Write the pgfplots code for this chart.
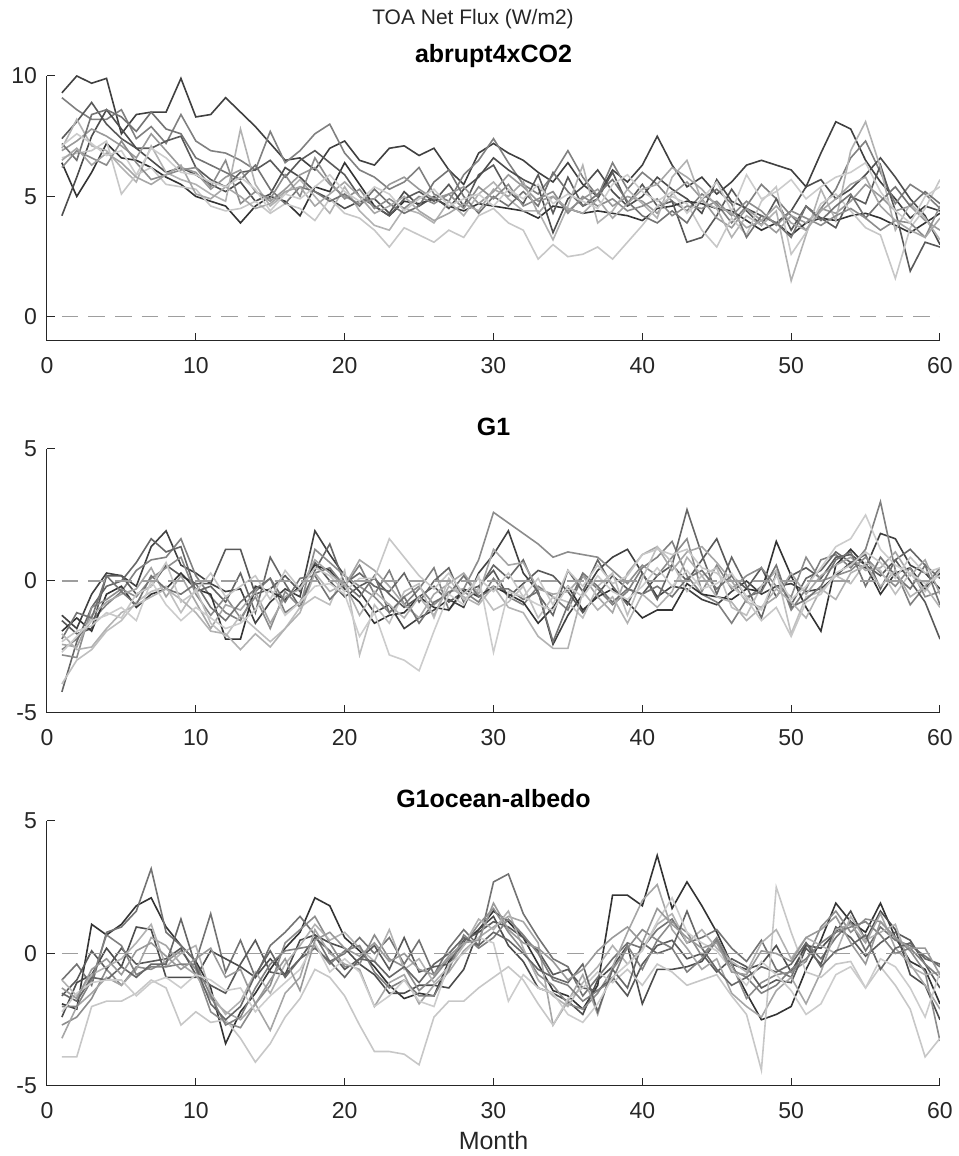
\documentclass[border=0pt]{standalone}
\usepackage{fontspec}
\setmainfont{Liberation Sans}
\usepackage{pgfplots}
\pgfplotsset{compat=1.18}

% one column of monthly values per series; the month is the row number
\pgfplotsset{
  table/mon/.style={row sep=\\, header=false, x expr=\coordindex+1, y index=0},
  panel/.style={
    scale only axis, width=446.5pt, height=132.5pt,
    xmin=0, xmax=60, xtick={0,10,...,60},
    axis x line*=bottom, axis y line*=left,
    axis line style={black!85, line width=0.5pt},
    tick align=inside, major tick length=3.8pt,
    every tick/.style={black!85, line width=0.5pt},
    tick label style={font=\fontsize{11.5}{13}\selectfont, text=black!85},
    xticklabel style={anchor=base, yshift=-16.3pt},
    yticklabel style={xshift=-1.5pt},
    /pgf/number format/assume math mode=true,
    every axis title/.style={at={(0.5,1)}, anchor=base, yshift=6.8pt,
      font=\bfseries\fontsize{12.5}{14}\selectfont, text=black},
    every axis plot/.append style={line width=0.8pt, mark=none},
  },
  zero/.style={black!38, line width=0.6pt, dash pattern=on 8.3pt off 5pt},
}

\begin{document}
\begin{tikzpicture}[x=1pt,y=1pt]
\path[use as bounding box] (0,0) rectangle (479,578);
\node[anchor=base, font=\fontsize{10.5}{12}\selectfont, text=black!85] at (236.5,565.5) {TOA Net Flux (W/m2)};
\node[anchor=base, font=\fontsize{12.5}{14}\selectfont, text=black!85] at (246.75,3) {Month};

% ---------------- abrupt4xCO2 ----------------
\begin{axis}[panel, at={(23.5pt,407.5pt)}, anchor=south west,
  ymin=-1, ymax=10, ytick={0,5,10}, title={abrupt4xCO2}]
\addplot[black!75] table[mon] {9.3\\10.0\\9.7\\9.9\\7.6\\8.4\\8.5\\8.5\\9.9\\8.3\\8.4\\9.1\\8.5\\7.9\\7.2\\6.5\\6.6\\6.1\\7.0\\7.3\\6.5\\6.3\\7.0\\7.1\\6.7\\7.0\\6.1\\5.5\\6.8\\7.2\\6.8\\6.5\\6.0\\5.6\\6.4\\5.5\\5.0\\6.1\\5.6\\6.3\\7.5\\6.3\\5.4\\5.8\\5.1\\5.6\\6.3\\6.5\\6.3\\6.1\\5.4\\6.8\\8.1\\7.8\\6.5\\5.6\\4.9\\4.1\\4.6\\4.4\\};
\addplot[black!50] table[mon] {9.1\\8.6\\8.2\\8.2\\8.6\\7.4\\7.9\\7.2\\8.4\\7.3\\6.9\\6.8\\6.5\\6.1\\7.7\\6.4\\6.9\\7.6\\8.0\\6.8\\6.1\\5.8\\5.3\\5.6\\6.2\\5.1\\4.8\\5.9\\6.5\\7.4\\6.4\\5.5\\5.1\\5.9\\6.9\\5.8\\5.0\\6.4\\5.3\\6.0\\5.5\\4.8\\4.4\\5.1\\4.7\\3.9\\4.6\\5.5\\4.9\\4.2\\3.6\\4.5\\5.3\\6.6\\7.3\\6.0\\4.7\\5.5\\5.1\\4.5\\};
\addplot[black!80] table[mon] {6.4\\5.0\\6.0\\7.2\\6.6\\6.5\\6.2\\5.8\\5.5\\5.0\\4.8\\4.6\\3.9\\4.6\\5.0\\4.8\\4.2\\5.4\\5.2\\6.4\\5.5\\4.6\\4.2\\4.8\\4.7\\4.9\\4.6\\4.4\\4.7\\4.6\\4.5\\4.4\\4.1\\4.6\\4.5\\4.3\\4.4\\4.3\\4.2\\4.0\\4.5\\4.6\\4.8\\4.7\\4.5\\4.4\\4.0\\3.6\\3.9\\3.4\\3.9\\4.1\\4.0\\4.2\\4.3\\4.1\\3.8\\3.5\\3.9\\4.3\\};
\addplot[black!65] table[mon] {7.4\\8.1\\8.9\\8.0\\7.4\\7.0\\7.0\\7.3\\7.5\\6.2\\5.7\\5.4\\6.0\\6.1\\6.5\\5.8\\6.5\\6.9\\6.4\\5.9\\5.0\\4.6\\4.2\\4.9\\5.2\\4.8\\5.5\\4.6\\5.9\\6.3\\5.2\\4.7\\5.9\\4.3\\5.8\\4.6\\4.9\\6.0\\4.7\\5.5\\4.6\\4.8\\3.1\\3.3\\4.2\\5.3\\4.4\\3.8\\4.9\\3.6\\4.6\\4.1\\3.7\\5.0\\4.7\\6.3\\4.4\\1.9\\3.1\\2.9\\};
\addplot[black!70] table[mon] {4.2\\5.8\\7.5\\8.6\\7.8\\7.0\\6.5\\6.0\\6.2\\5.9\\5.5\\5.2\\5.6\\4.8\\5.1\\6.2\\5.8\\5.2\\4.9\\4.5\\4.8\\4.9\\4.3\\5.2\\4.6\\5.0\\4.5\\5.3\\5.8\\6.6\\6.1\\5.7\\5.4\\3.5\\4.9\\5.4\\6.1\\5.2\\4.6\\5.0\\5.8\\5.3\\4.9\\4.3\\5.7\\4.8\\4.5\\4.2\\3.9\\4.4\\5.4\\5.7\\4.9\\5.3\\5.9\\6.6\\5.8\\4.9\\4.2\\3.0\\};
\addplot[black!40] table[mon] {6.9\\7.3\\7.8\\7.5\\7.1\\6.6\\7.6\\6.9\\6.2\\6.0\\5.3\\5.8\\6.1\\5.2\\4.8\\5.3\\5.9\\6.2\\5.5\\5.0\\4.7\\4.9\\5.5\\5.8\\5.3\\4.9\\5.1\\5.4\\4.7\\5.2\\5.9\\5.4\\4.8\\5.0\\4.4\\4.9\\5.3\\4.6\\5.0\\4.8\\4.3\\5.1\\5.6\\4.9\\4.1\\3.7\\4.5\\4.0\\3.5\\4.2\\3.9\\4.5\\4.3\\4.8\\5.5\\5.0\\4.4\\4.6\\4.0\\3.6\\};
\addplot[black!30] table[mon] {7.0\\8.2\\7.1\\6.9\\6.2\\5.6\\7.1\\6.0\\5.7\\5.5\\5.1\\4.8\\7.8\\5.5\\4.6\\5.1\\5.7\\5.0\\4.3\\5.4\\4.4\\3.8\\3.6\\4.5\\4.3\\3.9\\4.8\\4.2\\5.1\\5.6\\4.9\\4.4\\4.4\\3.2\\4.6\\6.3\\3.9\\4.4\\5.3\\4.7\\4.1\\5.8\\6.5\\4.8\\4.5\\3.3\\4.2\\3.8\\4.4\\1.5\\3.4\\5.3\\4.0\\6.9\\8.1\\6.2\\3.6\\4.7\\4.1\\3.2\\};
\addplot[black!22] table[mon] {6.6\\6.8\\6.9\\7.3\\5.1\\5.9\\6.2\\5.5\\5.4\\5.3\\4.6\\4.4\\4.5\\4.8\\4.3\\4.7\\4.5\\4.0\\4.9\\4.3\\4.1\\3.6\\2.9\\3.7\\3.4\\3.1\\3.6\\3.3\\4.2\\4.5\\3.9\\3.6\\2.4\\3.0\\2.5\\2.6\\2.9\\2.4\\3.1\\3.8\\4.6\\5.0\\4.7\\3.6\\2.9\\4.1\\3.4\\4.8\\5.4\\2.6\\3.5\\4.7\\5.1\\4.4\\3.7\\3.4\\1.6\\3.7\\4.5\\5.7\\};
\addplot[black!55] table[mon] {7.2\\6.5\\8.4\\8.6\\8.3\\7.7\\8.5\\7.8\\7.6\\6.6\\6.3\\6.0\\5.7\\6.3\\5.3\\4.7\\5.4\\5.2\\4.8\\5.1\\4.6\\5.3\\4.7\\4.3\\4.6\\5.6\\6.1\\5.0\\4.3\\5.0\\4.6\\5.2\\4.6\\6.0\\5.2\\4.6\\5.1\\5.7\\4.8\\4.2\\3.9\\4.4\\3.9\\4.9\\5.3\\4.7\\3.3\\4.2\\3.9\\3.3\\4.6\\4.0\\4.6\\5.1\\4.1\\4.8\\5.4\\4.6\\5.2\\4.7\\};
\addplot[black!45] table[mon] {6.2\\6.9\\6.6\\6.3\\7.3\\6.4\\5.7\\5.9\\6.1\\6.2\\5.4\\6.5\\4.7\\5.2\\4.9\\5.9\\5.0\\6.6\\5.6\\4.9\\5.3\\4.5\\4.9\\4.5\\5.0\\4.7\\5.1\\4.5\\5.4\\4.9\\5.5\\4.6\\4.9\\5.2\\4.3\\5.0\\4.6\\4.9\\4.4\\4.6\\4.9\\4.2\\4.6\\4.5\\4.8\\4.2\\4.8\\4.4\\3.8\\4.4\\4.1\\3.8\\4.2\\4.5\\4.1\\3.6\\4.0\\3.9\\3.3\\4.6\\};
\addplot[black!35] table[mon] {6.5\\7.0\\6.3\\6.8\\6.4\\5.8\\5.5\\5.9\\6.3\\5.1\\4.9\\5.4\\5.0\\4.5\\4.7\\5.2\\5.4\\4.6\\5.1\\5.6\\5.0\\4.3\\4.6\\5.0\\4.4\\4.0\\4.3\\4.7\\4.4\\5.3\\5.0\\5.6\\4.3\\5.0\\4.5\\4.3\\4.9\\4.1\\4.7\\5.3\\5.5\\6.2\\5.8\\5.3\\4.6\\4.3\\3.7\\4.0\\4.6\\3.9\\3.6\\4.4\\4.9\\5.5\\5.8\\4.6\\4.0\\3.6\\3.3\\4.1\\};
\addplot[black!20] table[mon] {7.1\\7.6\\7.2\\6.7\\6.9\\5.9\\7.0\\6.6\\6.0\\5.9\\5.6\\5.4\\5.8\\5.3\\4.4\\5.1\\4.9\\5.4\\5.9\\5.2\\4.8\\5.4\\5.1\\4.4\\4.9\\5.3\\4.6\\4.9\\5.1\\4.6\\5.3\\4.9\\5.5\\4.7\\5.1\\4.8\\4.5\\5.5\\5.9\\5.2\\4.8\\5.2\\4.3\\4.9\\5.6\\4.4\\5.9\\4.9\\5.2\\5.7\\4.9\\5.4\\5.8\\6.0\\6.4\\5.2\\4.4\\3.9\\5.0\\5.4\\};
\addplot[zero] coordinates {(1,0) (60,0)};
\end{axis}

% ---------------- G1 ----------------
\begin{axis}[panel, at={(23.5pt,221.5pt)}, anchor=south west, height=132pt,
  ymin=-5, ymax=5, ytick={-5,0,5}, title={G1}]
\addplot[black!75] table[mon] {-1.3\\-1.8\\-0.5\\0.3\\0.2\\-0.2\\1.3\\1.9\\0.6\\0.3\\-0.1\\-0.4\\-0.3\\-1.6\\-0.8\\-0.3\\-0.6\\1.9\\1.0\\0.2\\-0.4\\-1.2\\-0.9\\-1.8\\-1.4\\-1.1\\-0.7\\-1.0\\0.3\\1.0\\1.9\\0.3\\-0.4\\-2.4\\-1.3\\-0.5\\0.4\\0.9\\1.2\\0.3\\-0.6\\-0.2\\-0.3\\-0.7\\-0.9\\-0.4\\0.0\\-0.5\\-0.2\\-0.1\\-0.4\\-0.3\\0.2\\0.7\\0.5\\1.8\\1.6\\0.6\\0.3\\-0.3\\};
\addplot[black!50] table[mon] {-2.6\\-2.2\\-1.5\\-0.9\\-0.4\\0.4\\0.8\\0.9\\1.6\\0.2\\-0.6\\-1.2\\-1.5\\-0.4\\0.1\\-1.2\\-0.8\\0.3\\0.5\\-0.2\\0.6\\-0.5\\0.4\\-0.9\\-0.3\\0.5\\-1.1\\-0.4\\-0.8\\0.1\\-0.6\\-0.9\\-0.2\\-0.6\\-1.1\\0.2\\-0.3\\-0.9\\-0.4\\0.5\\0.9\\1.5\\0.2\\-0.5\\-0.8\\-1.6\\-0.7\\-0.2\\0.4\\-1.1\\-0.3\\0.8\\1.0\\0.5\\1.2\\3.0\\0.4\\-0.9\\-0.2\\0.5\\};
\addplot[black!65] table[mon] {-1.5\\-2.0\\-1.8\\0.2\\0.2\\-0.5\\-0.2\\0.6\\0.2\\-0.1\\-0.1\\1.2\\1.2\\-0.5\\-0.3\\0.2\\-0.4\\0.7\\0.0\\-0.6\\-0.2\\0.1\\-0.5\\-1.0\\-0.6\\-0.2\\-0.8\\-0.4\\-0.2\\0.4\\-0.6\\-0.1\\0.4\\0.2\\-0.4\\-1.2\\-0.5\\0.2\\-0.3\\-0.5\\0.2\\0.6\\0.0\\0.8\\1.6\\0.2\\-0.3\\0.5\\-0.6\\0.2\\0.5\\0.1\\0.9\\1.0\\0.6\\0.2\\0.8\\0.0\\-0.8\\-2.2\\};
\addplot[black!80] table[mon] {-1.9\\-1.4\\-1.9\\-0.5\\-0.2\\-1.0\\-0.5\\-0.3\\0.3\\-0.3\\-0.5\\-2.2\\-2.2\\-0.2\\-0.4\\-0.7\\-0.2\\0.6\\0.4\\-0.3\\-0.8\\-1.6\\-1.3\\-1.2\\-0.6\\-1.0\\-1.1\\-0.3\\-0.6\\-0.2\\-0.5\\-0.8\\-1.6\\-1.0\\-0.2\\-1.1\\-0.6\\-0.3\\-0.8\\-1.4\\-1.1\\-1.1\\-0.1\\-0.5\\-0.6\\-0.7\\-0.3\\-0.4\\1.5\\0.2\\-1.0\\-1.9\\0.6\\1.2\\0.6\\-0.5\\0.3\\0.5\\-0.3\\0.3\\};
\addplot[black!60] table[mon] {-4.2\\-2.3\\-1.0\\-0.2\\0.0\\0.7\\1.6\\1.1\\1.3\\-0.4\\-0.2\\-0.8\\0.3\\-1.2\\0.9\\-0.1\\-1.0\\0.4\\1.4\\-0.1\\0.3\\-0.2\\-0.4\\0.3\\-0.8\\0.0\\0.5\\-0.8\\-0.3\\0.6\\0.1\\0.8\\-0.5\\-1.3\\0.4\\-0.4\\0.8\\-0.2\\-0.9\\0.3\\-0.7\\0.6\\2.7\\1.0\\-0.5\\0.9\\-0.2\\-1.4\\0.3\\-0.9\\0.1\\0.4\\1.1\\0.7\\1.0\\-0.3\\0.8\\1.2\\0.6\\0.1\\};
\addplot[black!45] table[mon] {-2.8\\-2.9\\-1.0\\-0.7\\-0.3\\-0.6\\0.1\\0.5\\0.9\\-0.5\\-1.3\\-0.6\\-1.4\\-0.6\\-1.8\\-0.4\\-1.0\\1.2\\0.7\\0.2\\-0.2\\-0.6\\-1.2\\-0.6\\-0.2\\-0.9\\-0.4\\-0.3\\0.8\\2.6\\2.2\\1.8\\1.4\\0.9\\1.1\\1.0\\0.9\\0.4\\-0.1\\0.6\\0.2\\0.9\\1.6\\-0.4\\0.6\\-0.3\\0.2\\0.5\\-0.2\\-0.6\\0.9\\0.0\\0.2\\0.4\\0.9\\0.3\\-0.2\\0.5\\-0.6\\-0.4\\};
\addplot[black!35] table[mon] {-2.4\\-2.5\\-1.3\\-0.8\\-0.5\\-0.3\\0.5\\-0.6\\0.2\\-0.8\\-1.8\\-0.9\\-1.1\\-0.4\\-1.6\\-0.6\\-0.3\\0.8\\0.3\\-0.2\\0.8\\0.4\\-0.2\\-0.9\\-1.4\\-0.5\\-0.1\\0.3\\-0.5\\1.2\\0.6\\0.7\\-0.3\\-0.5\\-0.4\\0.2\\-0.6\\-1.2\\0.3\\1.0\\1.3\\0.4\\1.1\\1.3\\0.7\\0.0\\-0.8\\-1.0\\-0.6\\0.3\\-0.5\\0.2\\0.6\\0.9\\0.4\\0.5\\1.1\\0.2\\0.8\\-0.5\\};
\addplot[black!25] table[mon] {-3.9\\-3.0\\-2.6\\-1.9\\-1.5\\-0.8\\-0.4\\-0.2\\-1.2\\-0.3\\-1.6\\-2.1\\-1.3\\-1.8\\-2.3\\-1.8\\-1.0\\-0.6\\-0.9\\0.4\\-2.8\\-0.9\\-1.6\\-0.4\\-0.1\\-1.4\\0.1\\-0.7\\-0.3\\-1.1\\-0.8\\-0.2\\-1.4\\-0.6\\-0.8\\-1.4\\-0.2\\0.3\\-1.3\\0.1\\1.3\\0.7\\-0.4\\0.2\\0.5\\-1.0\\-1.3\\-0.2\\0.4\\-2.0\\-0.6\\-0.4\\0.2\\-0.1\\0.7\\0.4\\-0.5\\0.3\\-0.4\\0.4\\};
\addplot[black!55] table[mon] {-2.2\\-1.2\\-1.4\\0.2\\-0.4\\-0.9\\0.2\\-0.3\\-0.5\\-0.1\\-1.0\\-1.5\\-0.8\\-0.3\\0.1\\-0.8\\0.1\\0.2\\-0.7\\-0.1\\-0.6\\0.2\\-1.2\\-0.6\\-1.6\\-0.8\\-0.5\\0.2\\-0.6\\-0.3\\-0.3\\-0.7\\-0.4\\-2.3\\-0.9\\0.3\\-0.2\\-0.8\\-0.3\\-0.5\\-0.2\\-0.6\\0.1\\0.4\\-0.3\\0.2\\-0.6\\-0.4\\0.6\\-1.0\\-0.7\\-0.2\\0.8\\1.1\\-0.2\\0.9\\0.2\\-0.3\\0.6\\-0.9\\};
\addplot[black!30] table[mon] {-2.0\\-2.6\\-2.5\\-1.8\\-1.2\\-0.9\\-0.6\\-0.3\\-0.7\\-1.2\\-1.9\\-2.0\\-2.6\\-2.0\\-2.5\\-1.8\\-1.2\\0.3\\-0.4\\-0.1\\-1.3\\-0.4\\-0.9\\-1.4\\-0.6\\-1.3\\-0.2\\-0.6\\-0.9\\-0.2\\-1.0\\-1.2\\-2.1\\-2.55\\-2.55\\-0.4\\-1.1\\-0.6\\-1.6\\-0.5\\-1.0\\-0.4\\0.9\\0.2\\-0.6\\-0.8\\-1.5\\-1.0\\-0.3\\-0.8\\-1.4\\-0.3\\-0.7\\0.3\\0.6\\-0.2\\0.4\\-0.6\\-0.2\\-1.0\\};
\addplot[black!22] table[mon] {-2.3\\-1.9\\-1.7\\-1.2\\-1.4\\-0.5\\-0.2\\0.7\\-0.8\\-0.4\\0.3\\-0.6\\-0.2\\0.2\\-0.7\\0.4\\-0.3\\0.5\\0.2\\-0.4\\0.1\\0.1\\1.6\\0.9\\0.2\\-0.3\\0.3\\-0.5\\0.1\\-0.4\\0.3\\-0.6\\0.1\\-0.9\\0.4\\-0.2\\0.6\\-0.1\\0.2\\1.0\\1.2\\1.0\\1.2\\0.5\\0.3\\-0.2\\-0.7\\-1.5\\-1.0\\-2.1\\-0.8\\-0.5\\0.3\\0.6\\1.1\\0.7\\0.1\\0.9\\0.3\\0.5\\};
\addplot[black!20] table[mon] {-2.7\\-2.1\\-1.5\\-1.3\\-1.0\\-1.5\\0.0\\-0.9\\-1.5\\-1.0\\-1.4\\-1.8\\-1.6\\-1.1\\-0.3\\-1.3\\-0.8\\-0.2\\-0.1\\-0.5\\-2.1\\-1.2\\-2.8\\-3.0\\-3.4\\-1.9\\-0.5\\-0.9\\0.2\\-2.7\\-0.4\\-0.6\\-0.9\\-1.1\\-0.2\\-0.6\\0.2\\-0.4\\-0.7\\-0.2\\0.5\\-0.2\\0.4\\-0.3\\-0.1\\0.3\\-0.6\\-1.1\\0.2\\-0.7\\-0.2\\0.5\\1.3\\1.6\\2.5\\1.2\\0.6\\0.3\\-0.1\\0.2\\};
\addplot[zero] coordinates {(1,0) (60,0)};
\end{axis}

% ---------------- G1ocean-albedo ----------------
\begin{axis}[panel, at={(23.5pt,35pt)}, anchor=south west,
  ymin=-5, ymax=5, ytick={-5,0,5}, title={G1ocean-albedo}]
\addplot[black!80] table[mon] {-1.9\\-2.1\\1.1\\0.7\\1.1\\1.8\\2.1\\1.0\\0.3\\-0.3\\-1.3\\-3.4\\-2.2\\-1.5\\-0.6\\0.2\\0.8\\2.1\\1.8\\0.6\\0.1\\-0.5\\-1.2\\-1.7\\-1.5\\-1.6\\-0.3\\0.4\\0.9\\1.6\\1.2\\0.6\\-0.4\\-1.4\\-1.6\\-2.1\\-1.2\\2.2\\2.2\\1.8\\3.7\\1.7\\2.7\\1.8\\0.8\\-0.4\\-1.5\\-2.5\\-2.3\\-2.0\\-0.6\\0.5\\1.9\\1.2\\0.8\\1.9\\0.6\\-0.3\\-0.6\\-1.9\\};
\addplot[black!55] table[mon] {-1.0\\-0.4\\-1.2\\0.8\\1.0\\1.6\\3.2\\0.8\\0.3\\-0.3\\1.5\\-0.7\\0.5\\-0.9\\0.3\\0.8\\1.4\\0.7\\-0.3\\0.0\\0.6\\0.0\\0.6\\-0.4\\0.5\\-0.8\\0.2\\0.9\\0.3\\2.7\\3.0\\1.5\\0.6\\-0.2\\-0.5\\-1.6\\-0.9\\-0.2\\0.4\\0.2\\0.9\\1.3\\0.4\\0.6\\0.9\\0.2\\-0.3\\0.5\\-0.6\\-0.9\\0.4\\-0.2\\0.6\\1.2\\0.1\\1.0\\0.5\\0.3\\-0.1\\-0.5\\};
\addplot[black!70] table[mon] {-2.4\\-1.1\\-0.8\\0.2\\-0.5\\1.0\\0.9\\-0.9\\-0.9\\-0.9\\0.1\\-0.2\\-0.5\\-0.9\\-0.2\\-0.8\\0.5\\0.7\\0.4\\0.2\\-0.4\\-0.8\\-1.5\\-1.5\\-1.2\\-1.2\\-1.3\\-0.6\\0.9\\1.4\\0.3\\-0.3\\-1.3\\-1.5\\-1.8\\-2.3\\-1.0\\-0.5\\0.3\\-1.9\\-0.6\\-0.6\\-0.5\\-0.3\\0.5\\-0.4\\-0.6\\-0.4\\0.3\\-0.7\\0.3\\0.2\\0.8\\1.6\\0.5\\1.6\\0.9\\-0.8\\-1.2\\-2.5\\};
\addplot[black!45] table[mon] {-2.7\\-2.4\\-1.7\\-0.6\\-1.2\\-0.5\\-0.6\\-0.3\\0.1\\-0.6\\-2.2\\-2.6\\-2.8\\-1.9\\-1.2\\0.4\\0.9\\1.4\\0.4\\-0.5\\-0.4\\0.7\\-0.2\\-0.5\\-1.4\\-0.9\\-0.2\\0.3\\1.1\\1.7\\0.8\\0.1\\-0.8\\-1.2\\-1.9\\-2.1\\-1.5\\-0.6\\0.2\\0.9\\0.5\\1.2\\0.8\\-0.1\\0.6\\-0.4\\-1.7\\-1.1\\-0.8\\-0.7\\-0.3\\1.0\\1.6\\0.8\\1.3\\1.2\\0.6\\0.1\\-0.7\\-3.3\\};
\addplot[black!65] table[mon] {-1.6\\-1.0\\0.1\\-0.6\\0.2\\-0.4\\-0.3\\-0.2\\0.2\\-0.8\\-1.2\\-1.5\\-0.4\\0.5\\-0.7\\-0.8\\-0.2\\0.6\\0.1\\-0.6\\-0.2\\0.3\\-0.6\\0.6\\-0.7\\-0.5\\-0.4\\0.5\\0.8\\1.2\\1.0\\0.6\\0.1\\-0.8\\-0.6\\-1.3\\-1.4\\-0.9\\-1.6\\-0.4\\0.3\\0.5\\-0.2\\0.0\\-0.7\\-0.2\\-0.5\\-1.3\\-1.0\\-1.1\\0.2\\-0.4\\1.0\\0.6\\-0.1\\0.4\\0.8\\0.5\\-0.4\\-1.3\\};
\addplot[black!35] table[mon] {-3.2\\-2.0\\-1.5\\-0.9\\-1.2\\-0.6\\0.6\\0.3\\-0.4\\-0.8\\-1.7\\-2.2\\-2.5\\-1.9\\-2.9\\-1.5\\-0.9\\0.9\\0.0\\-0.4\\-0.6\\-2.0\\-1.1\\-0.8\\-1.9\\-1.2\\-0.7\\0.1\\0.6\\1.0\\1.4\\1.2\\0.4\\-2.7\\-1.8\\-0.8\\-2.3\\-0.5\\0.8\\2.0\\2.6\\0.9\\0.2\\-0.6\\-0.2\\-1.5\\-2.0\\-2.4\\-1.4\\-0.9\\-1.9\\-0.7\\0.9\\1.1\\0.4\\1.5\\0.2\\-0.4\\-1.2\\-2.1\\};
\addplot[black!22] table[mon] {-3.9\\-3.9\\-2.0\\-1.8\\-1.8\\-1.5\\-1.0\\-1.3\\-2.7\\-2.2\\-2.6\\-2.5\\-3.2\\-4.1\\-3.4\\-2.4\\-1.7\\-0.6\\-0.9\\-1.6\\-2.7\\-3.7\\-3.7\\-3.8\\-4.2\\-2.4\\-1.8\\-1.8\\-1.3\\-0.9\\-0.5\\-1.0\\-1.9\\-2.7\\-1.7\\-1.3\\-0.7\\-1.1\\-0.6\\-1.2\\-0.4\\-0.7\\-1.2\\-1.0\\-0.8\\-1.6\\-2.3\\-4.4\\2.5\\0.8\\-0.7\\-0.9\\-0.4\\-0.3\\-1.3\\-0.5\\-1.2\\-2.1\\-3.9\\-3.2\\};
\addplot[black!30] table[mon] {-1.0\\-1.6\\-0.8\\-0.5\\-0.2\\0.4\\1.1\\-0.5\\0.0\\0.3\\-1.5\\-2.3\\-1.8\\-0.7\\-1.5\\-0.4\\0.3\\1.1\\0.5\\0.8\\0.2\\-0.3\\0.9\\-0.6\\-0.2\\-1.1\\-0.5\\0.3\\1.3\\0.9\\1.6\\0.2\\-1.0\\-1.6\\-2.0\\-1.1\\-0.5\\0.3\\-0.4\\0.2\\1.1\\1.5\\0.4\\0.9\\0.2\\-0.3\\-0.7\\0.4\\0.9\\-0.2\\0.6\\0.3\\0.0\\1.4\\0.5\\0.8\\1.1\\-0.5\\-0.8\\-0.7\\};
\addplot[black!50] table[mon] {-2.0\\-2.0\\-1.0\\0.7\\0.3\\-0.8\\-0.5\\-0.5\\-0.4\\-0.4\\-1.6\\-2.7\\-2.4\\-1.3\\-0.4\\0.1\\0.2\\0.3\\-0.4\\0.1\\0.3\\-0.7\\-1.3\\-1.0\\-1.6\\-1.6\\-0.6\\0.7\\0.2\\0.6\\1.3\\0.7\\0.0\\-1.0\\-1.2\\-1.8\\-1.4\\-1.0\\0.3\\-0.6\\0.5\\0.2\\-0.7\\-0.2\\0.5\\-0.6\\-0.9\\-1.5\\-1.2\\-0.6\\-0.2\\0.4\\0.8\\1.0\\1.2\\0.7\\0.0\\0.2\\-0.4\\-0.9\\};
\addplot[black!60] table[mon] {-1.5\\-1.8\\-0.9\\-1.0\\-0.5\\-0.9\\-0.4\\-0.4\\1.3\\-0.5\\-1.9\\-2.5\\-2.0\\-0.8\\0.1\\-0.9\\-0.2\\0.2\\-0.3\\-0.9\\-0.2\\-0.3\\-0.9\\-0.5\\-1.1\\-0.4\\0.0\\0.6\\0.3\\0.8\\0.5\\0.0\\-0.6\\-0.9\\-1.1\\-0.4\\-2.2\\-0.6\\-1.3\\0.4\\0.0\\0.2\\1.6\\0.2\\-0.6\\-1.2\\-0.9\\-0.5\\-0.7\\-0.4\\0.4\\-0.5\\0.1\\0.3\\0.7\\-0.6\\0.2\\0.4\\-0.2\\-0.4\\};
\addplot[black!20] table[mon] {-2.2\\-1.5\\-1.1\\-1.0\\-1.0\\-1.6\\-1.1\\-0.9\\-1.3\\-0.8\\-1.0\\-1.4\\-1.3\\-2.2\\-1.6\\-1.1\\-0.6\\0.4\\-0.7\\-0.2\\-0.7\\-2.0\\-1.6\\-1.0\\-1.8\\-2.0\\-0.4\\0.0\\0.6\\0.4\\-1.8\\-0.8\\-1.3\\-1.5\\-2.3\\-2.6\\-1.9\\-0.9\\-0.4\\0.1\\1.2\\2.1\\0.8\\0.4\\0.1\\-0.6\\-1.2\\-0.3\\-0.8\\-1.4\\-2.3\\-1.9\\-0.8\\-0.5\\-1.3\\-0.2\\-0.5\\-1.3\\-2.4\\-0.7\\};
\addplot[black!40] table[mon] {-1.3\\-1.7\\-0.6\\-0.2\\-0.8\\0.1\\0.4\\-0.1\\-0.6\\-0.2\\0.2\\-0.9\\-0.6\\-1.9\\-1.0\\-0.2\\-1.4\\0.5\\0.8\\0.2\\-0.1\\0.4\\-0.3\\0.0\\-0.6\\-0.8\\-0.1\\0.4\\0.5\\1.9\\0.9\\0.4\\0.2\\-0.3\\-1.0\\-0.6\\0.1\\0.6\\1.0\\0.4\\1.7\\1.1\\0.6\\0.2\\0.4\\-0.7\\-0.8\\0.1\\0.0\\-0.3\\0.6\\0.9\\1.4\\0.4\\-0.4\\1.2\\0.6\\0.2\\0.2\\-0.8\\};
\addplot[zero] coordinates {(1,0) (60,0)};
\end{axis}
\end{tikzpicture}
\end{document}
